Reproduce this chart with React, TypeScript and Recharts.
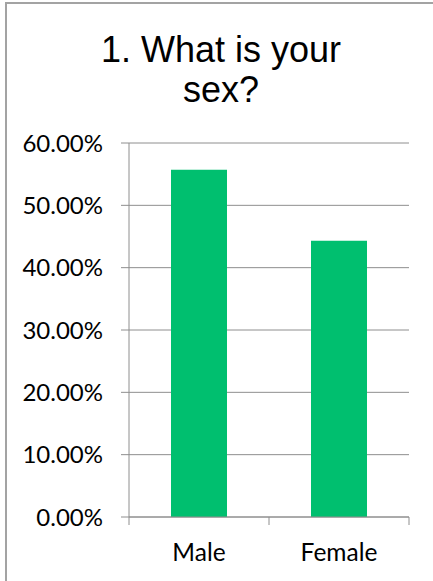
import React from "react";
import { BarChart, Bar, XAxis, YAxis, CartesianGrid } from "recharts";

// Données
const categories = ["Male", "Female"];
const shares = [0.557, 0.443];
const yTicks = [0, 0.1, 0.2, 0.3, 0.4, 0.5, 0.6];

const data = categories.map((name, i) => ({ name, value: shares[i] }));

const GRAY = "#8e8e8e";
const AXIS_FONT = "Lato, 'Open Sans', sans-serif";

const CategoryTick = (props: any) => {
  const { x, y, payload, index, visibleTicksCount } = props;
  const half = payload && payload.offset ? payload.offset : 70;
  const axisY = y - 8 - 19;
  return (
    <g>
      <line x1={x - half} y1={axisY} x2={x - half} y2={axisY + 8} stroke={GRAY} />
      {index === (visibleTicksCount ?? categories.length) - 1 && (
        <line x1={x + half} y1={axisY} x2={x + half} y2={axisY + 8} stroke={GRAY} />
      )}
      <text
        x={x}
        y={y}
        dy="0.68em"
        textAnchor="middle"
        fill="#000"
        fontSize={24.5}
        fontFamily={AXIS_FONT}
      >
        {payload.value}
      </text>
    </g>
  );
};

const App = () => {
  return (
    <div
      style={{
        position: "absolute",
        left: 0,
        top: 0,
        width: 433,
        height: 581,
        overflow: "hidden",
        background: "#fff",
      }}
    >
      <div
        style={{
          position: "absolute",
          left: 5,
          top: 2,
          width: 470,
          height: 600,
          border: "2px solid #a3a3a3",
          boxSizing: "border-box",
        }}
      />
      <div
        style={{
          position: "absolute",
          left: 6,
          top: 30,
          width: 430,
          textAlign: "center",
          fontFamily: "'Liberation Sans', Arial, sans-serif",
          fontSize: 36,
          lineHeight: "40px",
          color: "#000",
        }}
      >
        <div>1. What is your</div>
        <div>sex?</div>
      </div>
      <div style={{ position: "absolute", left: 0, top: 0 }}>
        <BarChart
          width={433}
          height={581}
          data={data}
          margin={{ top: 143, right: 24, bottom: 0, left: 0 }}
          barCategoryGap="30%"
        >
          <CartesianGrid vertical={false} stroke={GRAY} strokeDasharray="" />
          <XAxis
            dataKey="name"
            height={64}
            axisLine={{ stroke: GRAY }}
            tickLine={false}
            tickSize={8}
            tickMargin={19}
            interval={0}
            tick={<CategoryTick />}
          />
          <YAxis
            width={129}
            domain={[0, 0.6]}
            ticks={yTicks}
            interval={0}
            axisLine={{ stroke: GRAY }}
            tickLine={{ stroke: GRAY }}
            tickSize={8}
            tickMargin={18}
            tickFormatter={(v: number) => (v * 100).toFixed(2) + "%"}
            tick={{
              fill: "#000",
              fontSize: 24,
              fontFamily: AXIS_FONT,
            }}
          />
          <Bar dataKey="value" fill="#00BF6F" isAnimationActive={false} />
        </BarChart>
      </div>
    </div>
  );
};

export default App;
